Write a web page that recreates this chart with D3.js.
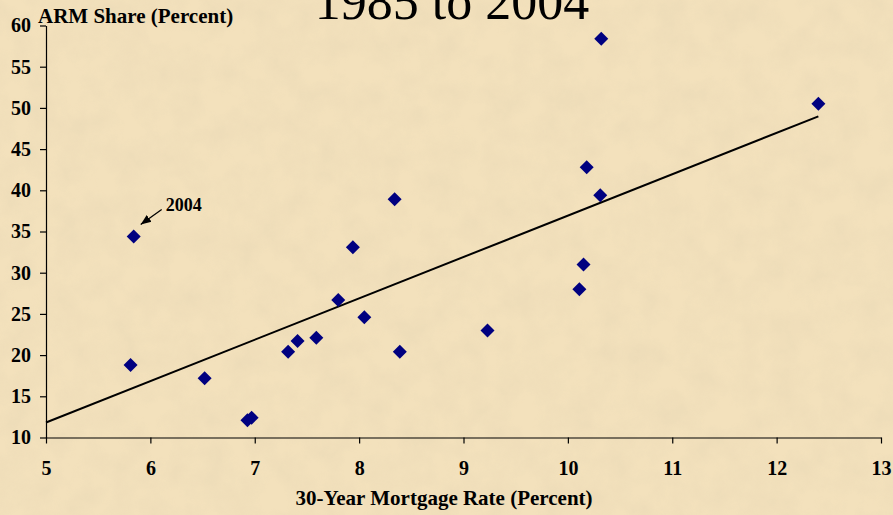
<!DOCTYPE html>
<html>
<head>
<meta charset="utf-8">
<script src="https://cdn.jsdelivr.net/npm/d3@7"></script>
<style>
  html, body { margin: 0; padding: 0; background: #f1deb8; }
  svg { display: block; }
  text { font-family: "Liberation Serif", "Times New Roman", serif; }
</style>
</head>
<body>
<div id="chart"></div>
<script>
(function () {

    // one point per year, 1985 .. 2004
    var years = [1985, 1986, 1987, 1988, 1989, 1990, 1991, 1992, 1993, 1994,
                 1995, 1996, 1997, 1998, 1999, 2000, 2001, 2002, 2003, 2004];
    // 30-year mortgage rate (percent)
    var rates = [12.40, 10.18, 10.32, 10.31, 10.15, 10.11, 9.23, 8.39, 6.93, 8.34,
                 7.94, 7.80, 7.59, 6.97, 7.41, 8.05, 7.32, 6.52, 5.81, 5.84];
    // ARM share of originations (percent)
    var armShare = [50.5, 42.8, 58.4, 39.4, 31.0, 28.0, 23.0, 20.4, 12.1, 38.9,
                    33.1, 26.7, 22.1, 12.4, 21.7, 24.6, 20.4, 17.2, 18.8, 34.4];

    var xTicks = [5, 6, 7, 8, 9, 10, 11, 12, 13];
    var yTicks = [10, 15, 20, 25, 30, 35, 40, 45, 50, 55, 60];

    var width = 893, height = 515;

    var svg = d3.select("#chart").append("svg")
        .attr("width", width)
        .attr("height", height);

    // parchment background
    var defs = svg.append("defs");
    var f = defs.append("filter").attr("id", "paper")
        .attr("x", 0).attr("y", 0).attr("width", "100%").attr("height", "100%");
    f.append("feTurbulence")
        .attr("type", "fractalNoise")
        .attr("baseFrequency", "0.035")
        .attr("numOctaves", 4)
        .attr("seed", 7);
    f.append("feColorMatrix")
        .attr("type", "matrix")
        .attr("values", "0 0 0 0 0.78  0 0 0 0 0.66  0 0 0 0 0.45  0 0 0 -1.1 0.75");

    svg.append("rect").attr("width", width).attr("height", height).attr("fill", "#f3e1bc");
    svg.append("rect").attr("width", width).attr("height", height)
        .attr("filter", "url(#paper)").attr("opacity", 0.6);

    var x = d3.scaleLinear().domain([5, 13]).range([46, 881]);
    var y = d3.scaleLinear().domain([10, 60]).range([437.5, 25.5]);

    // title (cut off at the top of the slide, as in the original)
    svg.append("text")
        .attr("x", 452).attr("y", 19)
        .attr("text-anchor", "middle")
        .style("font-size", "52px")
        .attr("fill", "#000")
        .text("1985 to 2004");

    // axes
    var xAxis = svg.append("g")
        .attr("transform", "translate(0," + y(10) + ")")
        .call(d3.axisBottom(x).tickValues(xTicks).tickSize(6).tickPadding(17).tickSizeOuter(0));
    var yAxis = svg.append("g")
        .attr("transform", "translate(" + x(5) + ",0)")
        .call(d3.axisLeft(y).tickValues(yTicks).tickSize(6).tickPadding(9).tickSizeOuter(0));

    [xAxis, yAxis].forEach(function (g) {
        g.select(".domain").attr("stroke", "#000").attr("stroke-width", 1.2);
        g.selectAll(".tick line").attr("stroke", "#000").attr("stroke-width", 1.2);
        g.selectAll(".tick text")
            .attr("fill", "#000")
            .style("font-family", "'Liberation Serif', 'Times New Roman', serif")
            .style("font-size", "20px")
            .style("font-weight", "bold");
    });

    // axis titles
    svg.append("text")
        .attr("x", 38).attr("y", 23)
        .style("font-size", "21px").style("font-weight", "bold")
        .text("ARM Share (Percent)");

    svg.append("text")
        .attr("x", 444).attr("y", 505)
        .attr("text-anchor", "middle")
        .style("font-size", "21px").style("font-weight", "bold")
        .text("30-Year Mortgage Rate (Percent)");

    // linear trend line (least squares), from the axis to the highest rate
    var mx = d3.mean(rates), my = d3.mean(armShare);
    var sxy = d3.sum(rates, function (r, i) { return (r - mx) * (armShare[i] - my); });
    var sxx = d3.sum(rates, function (r) { return (r - mx) * (r - mx); });
    var slope = sxy / sxx, icpt = my - slope * mx;
    var trend = [5, d3.max(rates)].map(function (r) { return [r, icpt + slope * r]; });

    svg.append("path")
        .datum(trend)
        .attr("fill", "none")
        .attr("stroke", "#000")
        .attr("stroke-width", 2)
        .attr("d", d3.line().x(function (d) { return x(d[0]); }).y(function (d) { return y(d[1]); }));

    // points
    var diamond = d3.symbol().type(d3.symbolSquare).size(98);
    svg.append("g").selectAll("path")
        .data(years)
        .enter().append("path")
        .attr("d", diamond)
        .attr("fill", "#000080")
        .attr("transform", function (d, i) {
            return "translate(" + x(rates[i]) + "," + y(armShare[i]) + ") rotate(45)";
        });

    // 2004 callout
    defs.append("marker")
        .attr("id", "arrow")
        .attr("viewBox", "0 0 10 10")
        .attr("refX", 10).attr("refY", 5)
        .attr("markerWidth", 8).attr("markerHeight", 8)
        .attr("orient", "auto")
        .append("path").attr("d", "M0,1 L10,5 L0,9 Z").attr("fill", "#000");

    var i04 = years.indexOf(2004);
    var px = x(rates[i04]), py = y(armShare[i04]);
    svg.append("line")
        .attr("x1", px + 28).attr("y1", py - 27)
        .attr("x2", px + 7).attr("y2", py - 12)
        .attr("stroke", "#000").attr("stroke-width", 1.3)
        .attr("marker-end", "url(#arrow)");
    svg.append("text")
        .attr("x", px + 32).attr("y", py - 25)
        .style("font-size", "18px").style("font-weight", "bold")
        .text("2004");

})();
</script>
</body>
</html>
